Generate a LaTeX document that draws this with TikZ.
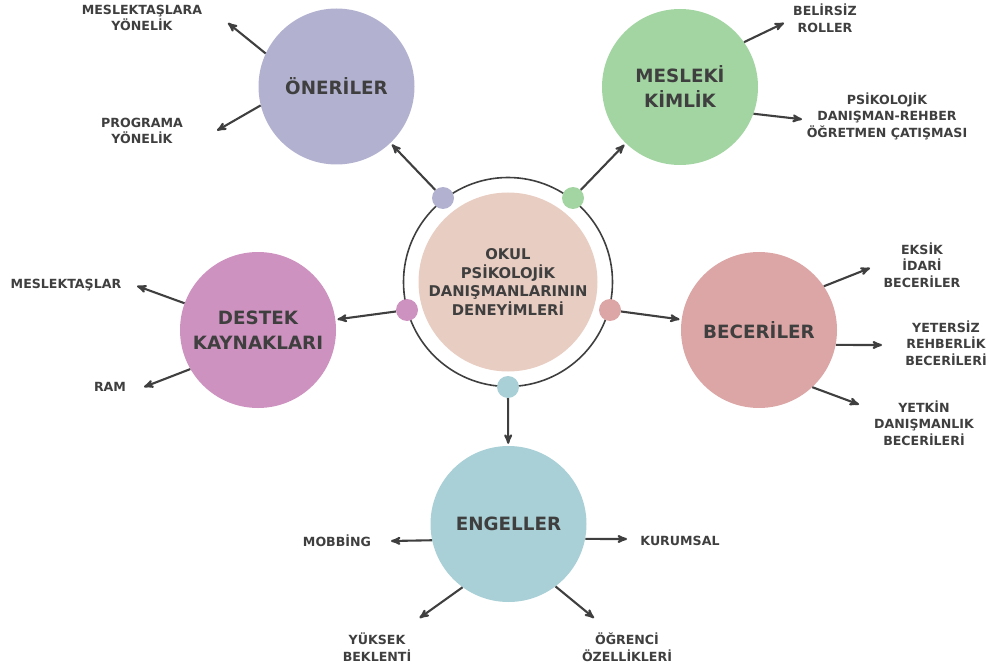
\documentclass[tikz,border=0pt]{standalone}
\usepackage{fontspec}
\setmainfont{DejaVu Sans}
\usetikzlibrary{arrows}
\definecolor{ink}{HTML}{3F3F3F}
\definecolor{oner}{HTML}{B2B2D0}
\definecolor{kimlik}{HTML}{A3D5A3}
\definecolor{destek}{HTML}{CE92C0}
\definecolor{beceri}{HTML}{DDA6A6}
\definecolor{engel}{HTML}{A8D0D6}
\definecolor{merkez}{HTML}{E8CDC2}
\tikzset{x=1pt,y=-1pt,
    every node/.style={
        text=ink},
    topic/.style={
        circle,
        minimum size=156pt,
        inner sep=0pt,
        align=center,
        font=\fontsize{18.3}{25}\selectfont\bfseries},
    dot/.style={
        circle,
        minimum size=22pt,
        inner sep=0pt},
    item/.style={
        align=center,
        font=\fontsize{12.6}{16.5}\selectfont\bfseries},
    every edge/.style={
        draw=ink,
        ->,>=stealth',
        line width=2.1pt}}

\begin{document}
\begin{tikzpicture}
        \useasboundingbox (0,0) rectangle (989,666);

        \node[circle,draw=ink,line width=1.6pt,minimum size=209pt] (ring) at (508,282) {};
        \node[circle,fill=merkez,minimum size=179pt,inner sep=0pt,align=center,
            font=\fontsize{14.8}{18.7}\selectfont\bfseries] (merkez) at (508,282)
            {OKUL\\PSİKOLOJİK\\DANIŞMANLARININ\\DENEYİMLERİ};

        \node[dot,fill=oner] (dOner) at (443,198) {};
        \node[dot,fill=kimlik] (dKimlik) at (573,198) {};
        \node[dot,fill=destek] (dDestek) at (407,310) {};
        \node[dot,fill=beceri] (dBeceri) at (610,310) {};
        \node[dot,fill=engel] (dEngel) at (508,387) {};

        \node[topic,fill=oner] (oneriler) at (336.5,86.5) {ÖNERİLER};
        \node[topic,fill=kimlik] (kimlik) at (680,87) {MESLEKİ\\KİMLİK};
        \node[topic,fill=destek] (destek) at (258,330) {DESTEK\\KAYNAKLARI};
        \node[topic,fill=beceri] (beceri) at (759,330) {BECERİLER};
        \node[topic,fill=engel] (engel) at (508.5,524) {ENGELLER};

        \node[item] (lMeslY) at (142,18) {MESLEKTAŞLARA\\YÖNELİK};
        \node[item] (lProg) at (142,131) {PROGRAMA\\YÖNELİK};
        \node[item] (lBelir) at (825,18) {BELİRSİZ\\ROLLER};
        \node[item] (lPsik) at (887,116) {PSİKOLOJİK\\DANIŞMAN-REHBER\\ÖĞRETMEN ÇATIŞMASI};
        \node[item] (lMesl) at (66,285) {MESLEKTAŞLAR};
        \node[item] (lRam) at (110,387) {RAM};
        \node[item] (lEksik) at (922,265) {EKSİK\\İDARİ\\BECERİLER};
        \node[item] (lYeter) at (946,343) {YETERSİZ\\REHBERLİK\\BECERİLERİ};
        \node[item] (lYetkin) at (924,423) {YETKİN\\DANIŞMANLIK\\BECERİLERİ};
        \node[item] (lMob) at (337,541) {MOBBİNG};
        \node[item] (lKur) at (680,541) {KURUMSAL};
        \node[item] (lYuk) at (377,647) {YÜKSEK\\BEKLENTİ};
        \node[item] (lOgr) at (627,647) {ÖĞRENCİ\\ÖZELLİKLERİ};

        \coordinate (tMeslY) at (228,23);
        \coordinate (tProg) at (217,130.5);
        \coordinate (tBelir) at (784,23);
        \coordinate (tPsik) at (802,119.3);
        \coordinate (tMesl) at (137,286);
        \coordinate (tRam) at (144,387);
        \coordinate (tEksik) at (870,268);
        \coordinate (tYeter) at (882,345);
        \coordinate (tYetkin) at (859,404.5);
        \coordinate (tMob) at (391,541);
        \coordinate (tKur) at (627,539);
        \coordinate (tYuk) at (419.5,618);
        \coordinate (tOgr) at (594,618);

        \draw (dOner) edge[shorten >=2pt] (oneriler);
        \draw (dKimlik) edge[shorten >=2pt] (kimlik);
        \draw (dDestek) edge[shorten >=2pt] (destek);
        \draw (dBeceri) edge[shorten >=2pt] (beceri);
        \draw (dEngel) edge[shorten >=2pt] (engel);

        \draw (oneriler.155) edge (tMeslY);
        \draw (oneriler.194) edge (tProg);
        \draw (kimlik.35) edge (tBelir);
        \draw (kimlik.-20) edge (tPsik);
        \draw (destek.160) edge (tMesl);
        \draw (destek.210) edge (tRam);
        \draw (beceri.34) edge (tEksik);
        \draw (beceri.-11) edge (tYeter);
        \draw (beceri.-47) edge (tYetkin);
        \draw (engel.192.5) edge (tMob);
        \draw (engel.-11) edge (tKur);
        \draw (engel.234) edge (tYuk);
        \draw (engel.-53) edge (tOgr);
    \end{tikzpicture}
\end{document}
